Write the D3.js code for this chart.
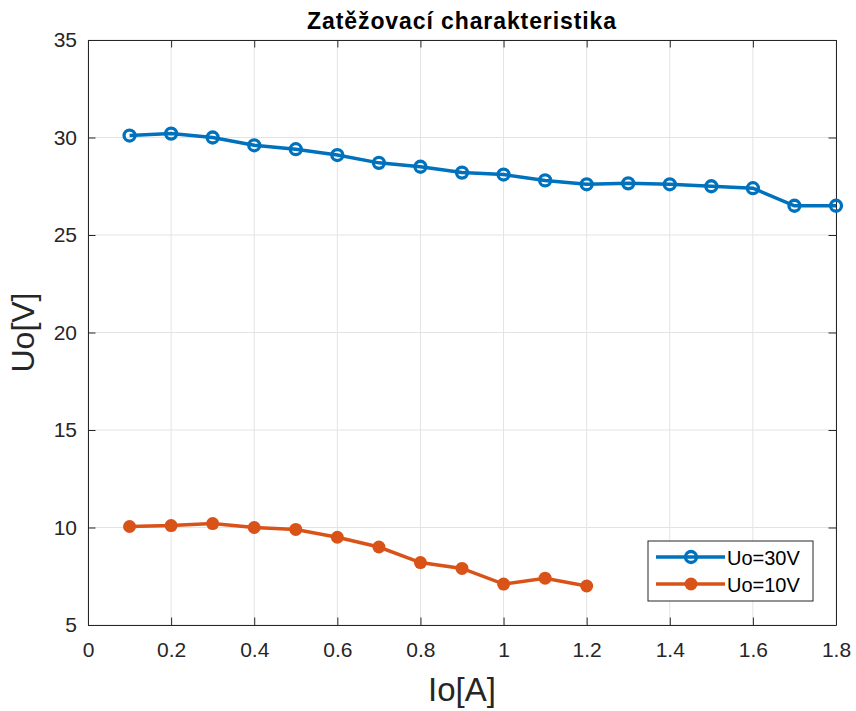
<!DOCTYPE html>
<html>
<head>
<meta charset="utf-8">
<script src="https://cdn.jsdelivr.net/npm/d3@7"></script>
<style>
  body { margin: 0; background: #fff; }
  svg { font-family: "Liberation Sans", Arial, sans-serif; }
</style>
</head>
<body>
<svg id="chart" width="856" height="711"></svg>
<script>
// data
const currents30 = [0.1, 0.2, 0.3, 0.4, 0.5, 0.6, 0.7, 0.8, 0.9, 1.0, 1.1, 1.2, 1.3, 1.4, 1.5, 1.6, 1.7, 1.8];
const volts30    = [30.1, 30.2, 30.0, 29.6, 29.4, 29.1, 28.7, 28.5, 28.2, 28.1, 27.8, 27.6, 27.65, 27.6, 27.5, 27.4, 26.5, 26.5];
const currents10 = [0.1, 0.2, 0.3, 0.4, 0.5, 0.6, 0.7, 0.8, 0.9, 1.0, 1.1, 1.2];
const volts10    = [10.05, 10.1, 10.2, 10.0, 9.9, 9.5, 9.0, 8.2, 7.9, 7.1, 7.4, 7.0];
const xTicks = [0, 0.2, 0.4, 0.6, 0.8, 1, 1.2, 1.4, 1.6, 1.8];
const yTicks = [5, 10, 15, 20, 25, 30, 35];
const seriesNames = ["Uo=30V", "Uo=10V"];

// layout
const pLeft = 88, pRight = 836, pTop = 40, pBottom = 625;
const axisColor = "#262626";
const blue = "#0072BD", orange = "#D95319";

const svg = d3.select("#chart");
const x = d3.scaleLinear().domain([0, 1.8]).range([pLeft, pRight]);
const y = d3.scaleLinear().domain([5, 35]).range([pBottom, pTop]);

// grid
const grid = svg.append("g");
grid.selectAll(".gx").data(xTicks).enter().append("line")
  .attr("x1", d => x(d)).attr("x2", d => x(d))
  .attr("y1", pTop).attr("y2", pBottom)
  .attr("stroke", "#e3e3e3").attr("stroke-width", 1);
grid.selectAll(".gy").data(yTicks).enter().append("line")
  .attr("x1", pLeft).attr("x2", pRight)
  .attr("y1", d => y(d)).attr("y2", d => y(d))
  .attr("stroke", "#e3e3e3").attr("stroke-width", 1);

// axes (ticks inward, box on)
const fmt = d => d3.format("~g")(d);
const styleAxis = g => {
  g.select(".domain").attr("stroke", axisColor);
  g.selectAll(".tick line").attr("stroke", axisColor);
  g.selectAll(".tick text").attr("fill", axisColor)
    .attr("font-size", 21).attr("font-family", "Liberation Sans, Arial, sans-serif");
};
svg.append("g").attr("transform", `translate(0,${pBottom})`)
  .call(d3.axisBottom(x).tickValues(xTicks).tickFormat(fmt).tickSizeInner(-7.5).tickSizeOuter(0).tickPadding(17))
  .call(styleAxis);
svg.append("g").attr("transform", `translate(${pLeft},0)`)
  .call(d3.axisLeft(y).tickValues(yTicks).tickFormat(fmt).tickSizeInner(-7.5).tickSizeOuter(0).tickPadding(11))
  .call(styleAxis);
svg.append("g").attr("transform", `translate(0,${pTop})`)
  .call(d3.axisTop(x).tickValues(xTicks).tickFormat("").tickSizeInner(-7.5).tickSizeOuter(0))
  .call(styleAxis);
svg.append("g").attr("transform", `translate(${pRight},0)`)
  .call(d3.axisRight(y).tickValues(yTicks).tickFormat("").tickSizeInner(-7.5).tickSizeOuter(0))
  .call(styleAxis);

// lines
const line = d3.line().x(d => x(d[0])).y(d => y(d[1]));
const pts30 = currents30.map((c, i) => [c, volts30[i]]);
const pts10 = currents10.map((c, i) => [c, volts10[i]]);

svg.append("path").datum(pts30).attr("d", line)
  .attr("fill", "none").attr("stroke", blue).attr("stroke-width", 3.5);
svg.append("g").selectAll("circle").data(pts30).enter().append("circle")
  .attr("cx", d => x(d[0])).attr("cy", d => y(d[1])).attr("r", 5.5)
  .attr("fill", "none").attr("stroke", blue).attr("stroke-width", 3.3);

svg.append("path").datum(pts10).attr("d", line)
  .attr("fill", "none").attr("stroke", orange).attr("stroke-width", 3.5);
svg.append("g").selectAll("circle").data(pts10).enter().append("circle")
  .attr("cx", d => x(d[0])).attr("cy", d => y(d[1])).attr("r", 6.5)
  .attr("fill", orange);

// title and labels
svg.append("text").attr("x", (pLeft + pRight) / 2).attr("y", 29)
  .attr("text-anchor", "middle").attr("font-size", 23).attr("font-weight", "bold")
  .attr("letter-spacing", 0.9).attr("fill", "#000").text("Zatěžovací charakteristika");
svg.append("text").attr("x", (pLeft + pRight) / 2).attr("y", 701)
  .attr("text-anchor", "middle").attr("font-size", 33).attr("fill", axisColor).text("Io[A]");
svg.append("text").attr("transform", `translate(34,${(pTop + pBottom) / 2}) rotate(-90)`)
  .attr("text-anchor", "middle").attr("font-size", 32).attr("fill", axisColor).text("Uo[V]");

// legend
const lg = svg.append("g").attr("transform", "translate(648,541)");
lg.append("rect").attr("width", 165).attr("height", 60)
  .attr("fill", "#fff").attr("stroke", "#262626").attr("stroke-width", 1);
const legendItems = [{ name: seriesNames[0], color: blue, open: true }, { name: seriesNames[1], color: orange, open: false }];
legendItems.forEach((it, i) => {
  const yy = 16 + i * 27;
  lg.append("line").attr("x1", 8).attr("x2", 77).attr("y1", yy).attr("y2", yy)
    .attr("stroke", it.color).attr("stroke-width", 3.5);
  lg.append("circle").attr("cx", 43).attr("cy", yy).attr("r", it.open ? 5.5 : 6.5)
    .attr("fill", it.open ? "none" : it.color)
    .attr("stroke", it.open ? it.color : "none").attr("stroke-width", 3.3);
  lg.append("text").attr("x", 79).attr("y", yy + 8).attr("font-size", 20)
    .attr("fill", "#000").text(it.name);
});
</script>
</body>
</html>
